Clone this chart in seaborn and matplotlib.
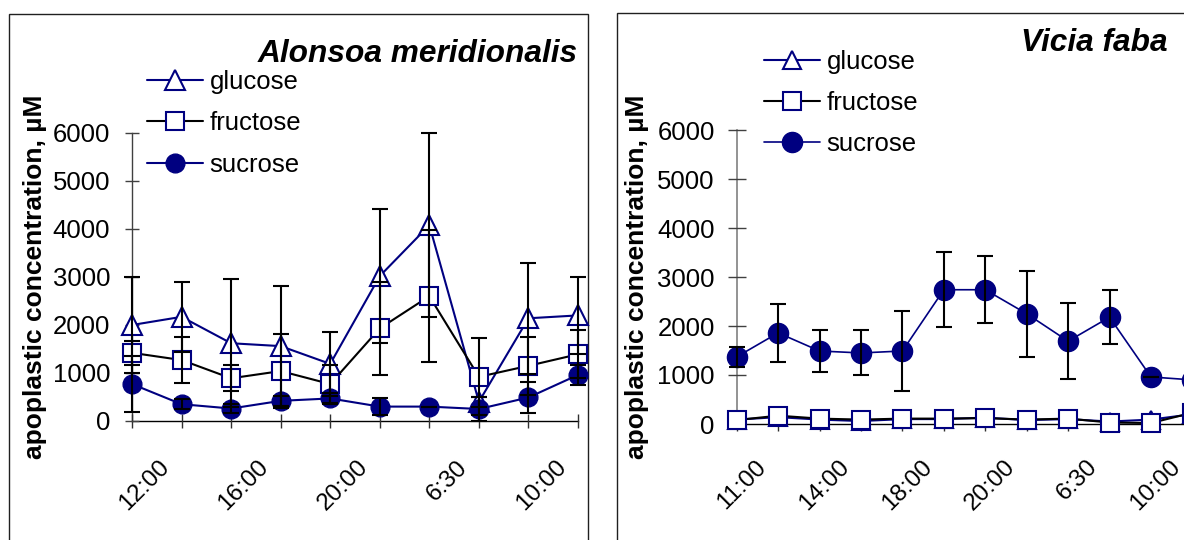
import numpy as np
import pandas as pd
import matplotlib
matplotlib.use("Agg")
import matplotlib.pyplot as plt
import matplotlib.transforms as mtransforms
from matplotlib.patches import Rectangle
import seaborn as sns

# ---------------- data ----------------
left_times = ["", "12:00", "", "16:00", "", "20:00", "", "6:30", "", "10:00"]
left_glucose = [2000, 2170, 1620, 1560, 1190, 3020, 4080, 400, 2140, 2200]
left_glucose_err = [1000, 730, 1330, 1250, 660, 1390, 1920, 100, 1160, 810]
left_fructose = [1420, 1270, 890, 1040, 770, 1930, 2600, 920, 1150, 1390]
left_fructose_err = [250, 470, 270, 770, 400, 970, 1380, 800, 600, 500]
left_sucrose = [770, 350, 260, 420, 470, 300, 300, 250, 490, 960]
left_sucrose_err = [590, 100, 100, 100, 120, 170, 0, 250, 330, 200]

right_times = ["", "11:00", "", "14:00", "", "18:00", "", "20:00", "", "6:30", "", "10:00"]
right_glucose = [90, 140, 90, 60, 100, 100, 130, 80, 100, 50, 90, 200]
right_fructose = [80, 170, 110, 90, 110, 110, 120, 90, 110, 30, 20, 230]
right_sucrose = [1370, 1860, 1490, 1450, 1490, 2740, 2740, 2250, 1690, 2180, 960, 900]
right_sucrose_err = [200, 590, 430, 460, 810, 770, 680, 880, 780, 550, 0, 0]

yticks = [0, 1000, 2000, 3000, 4000, 5000, 6000]
titles = ["Alonsoa meridionalis", "Vicia faba"]
ylabel = "apoplastic concentration, \u00b5M"
series_names = ["glucose", "fructose", "sucrose"]

NAVY = "#000080"

sns.set_style("white")
plt.rcParams["font.family"] = ["Liberation Sans", "DejaVu Sans"]
plt.rcParams.update({"text.color": "black", "axes.labelcolor": "black",
                     "xtick.color": "black", "ytick.color": "black"})

W, H = 1184, 540
fig = plt.figure(figsize=(W / 100, H / 100), dpi=100)


def px(x0, y0_top, w, h):
    """figure-fraction rect from pixel coords (top-origin)"""
    return [x0 / W, 1 - (y0_top + h) / H, w / W, h / H]


# panel borders
fig.add_artist(Rectangle((9 / W, -0.05), (588 - 9) / W, (H - 14) / H + 0.05,
                         transform=fig.transFigure, fill=False,
                         edgecolor="#202020", linewidth=1.0, zorder=0))
fig.add_artist(Rectangle((617 / W, -0.05), 0.6, (H - 13) / H + 0.05,
                         transform=fig.transFigure, fill=False,
                         edgecolor="#202020", linewidth=1.0, zorder=0))

axL = fig.add_axes(px(132, 133, 446, 288))
axR = fig.add_axes(px(736.7, 130, 455.7, 294))


def draw(ax, times, glc, fru, suc, glc_err, fru_err, suc_err, msz, lw_suc):
    x = np.arange(len(times))
    sns.lineplot(x=x, y=glc, ax=ax, color=NAVY, lw=1.5, marker="^",
                 markersize=msz[0], markerfacecolor="white",
                 markeredgecolor=NAVY, markeredgewidth=1.5,
                 label=series_names[0], clip_on=False, zorder=3)
    sns.lineplot(x=x, y=fru, ax=ax, color="black", lw=1.5, marker="s",
                 markersize=msz[1], markerfacecolor="white",
                 markeredgecolor=NAVY, markeredgewidth=1.5,
                 label=series_names[1], clip_on=False, zorder=3)
    sns.lineplot(x=x, y=suc, ax=ax, color=NAVY, lw=lw_suc, marker="o",
                 markersize=msz[2], markerfacecolor=NAVY,
                 markeredgecolor=NAVY, markeredgewidth=1.0,
                 label=series_names[2], clip_on=False, zorder=3)
    for vals, errs in ((glc, glc_err), (fru, fru_err), (suc, suc_err)):
        if errs is None:
            continue
        cont = ax.errorbar(x, vals, yerr=errs, fmt="none", ecolor="black",
                           elinewidth=1.5, capsize=5.5, capthick=1.5, zorder=4)
        for art in cont.get_children():
            art.set_clip_on(False)
    ax.set_xlim(0, len(times) - 1)
    ax.set_ylim(0, 6000)
    ax.set_xticks(x)
    ax.set_xticklabels(times)
    ax.set_yticks(yticks)
    ax.set_yticklabels([str(v) for v in yticks])
    ax.set_axisbelow(False)
    for s in ("top", "right"):
        ax.spines[s].set_visible(False)
    ax.spines["bottom"].set_color("black")
    ax.spines["bottom"].set_linewidth(1.0)
    ax.set_facecolor("none")


draw(axL, left_times, left_glucose, left_fructose, left_sucrose,
     left_glucose_err, left_fructose_err, left_sucrose_err, (14, 13, 13.5), 1.5)
draw(axR, right_times, right_glucose, right_fructose, right_sucrose,
     None, None, right_sucrose_err, (13, 13.5, 14.5), 1.2)

axL.spines["left"].set_color("#404040")
axL.spines["left"].set_linewidth(1.0)
axR.spines["left"].set_color("#808080")
axR.spines["left"].set_linewidth(1.2)

FS = 18.5
XFS = 17.5
axL.tick_params(axis="y", left=True, direction="inout", length=10, width=1,
                pad=10.8, labelsize=FS, color="#404040", labelcolor="black")
axR.tick_params(axis="y", left=True, direction="inout", length=13, width=1,
                pad=9.3, labelsize=FS, color="#404040", labelcolor="black")
axL.tick_params(axis="x", bottom=True, direction="inout", length=10, width=1,
                pad=20.2, labelsize=XFS, color="#303030", labelcolor="black")
axR.tick_params(axis="x", bottom=True, direction="inout", length=10, width=1,
                pad=18.0, labelsize=XFS, color="#303030", labelcolor="black")

shift = mtransforms.ScaledTranslation(-23 / 100, 0, fig.dpi_scale_trans)
for ax in (axL, axR):
    for lab in ax.get_xticklabels():
        lab.set_rotation(45)
        lab.set_ha("right")
        lab.set_va("top")
        lab.set_rotation_mode("anchor")
        lab.set_transform(lab.get_transform() + shift)

# y labels
for ax, xc in ((axL, -0.2175), (axR, -0.2177)):
    ax.set_ylabel(ylabel, fontsize=19, fontweight="bold", color="black")
    ax.yaxis.label.set_va("center")
    ax.yaxis.set_label_coords(xc, 0.5)
    ax.set_xlabel("")

# legends
for ax, (lx, ly) in ((axL, (147, 70)), (axR, (764, 49.5))):
    h, l = ax.get_legend_handles_labels()
    ax.legend(h, l, loc="upper left", bbox_to_anchor=(lx / W, 1 - ly / H),
              bbox_transform=fig.transFigure, frameon=False, fontsize=FS,
              borderpad=0, borderaxespad=0, labelspacing=0.68,
              handlelength=2.18, handletextpad=0.25, numpoints=1,
              labelcolor="black")

# titles
fig.text(578 / W, 1 - 54 / H, titles[0], ha="right", va="center",
         fontsize=22.8, fontweight="bold", fontstyle="italic", color="black")
fig.text(1168 / W, 1 - 43 / H, titles[1], ha="right", va="center",
         fontsize=22.8, fontweight="bold", fontstyle="italic", color="black")

fig.savefig("out.png", dpi=100)
